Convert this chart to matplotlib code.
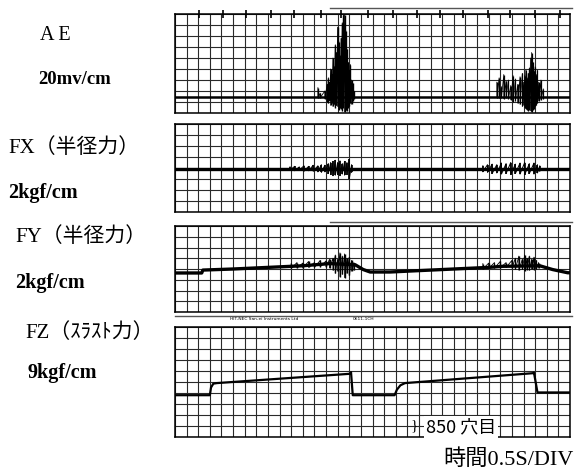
import numpy as np
import matplotlib
matplotlib.use('Agg')
import matplotlib.pyplot as plt
from matplotlib.lines import Line2D

W, H = 581, 471
ncols = 34

# AE trace (20mv/cm) - baseline and two bursts, in grid divisions
ae_base = 1.45
ae1_x = [12.3, 12.5, 12.9, 13.1, 13.2, 13.3, 13.4, 13.5, 13.6, 13.7, 13.8, 13.9, 14.0, 14.1,
         14.2, 14.3, 14.4, 14.5, 14.6, 14.7, 14.8, 14.9, 15.0, 15.1, 15.2, 15.3, 15.4]
ae1_top = [2.3, 1.8, 2.0, 2.6, 3.2, 2.8, 4.0, 3.5, 5.0, 4.2, 6.2, 5.5, 7.8, 6.5,
           5.2, 6.8, 8.2, 8.9, 8.9, 7.5, 5.8, 4.6, 3.9, 4.4, 3.0, 2.7, 2.0]
ae1_bot = [1.4, 1.4, 1.3, 1.0, 0.9, 1.1, 0.7, 0.9, 0.6, 0.8, 0.5, 0.7, 0.6, 0.3,
           0.5, 0.4, 0.2, 0.5, 0.1, 0.3, 0.2, 0.5, 0.6, 0.9, 0.8, 1.1, 1.3]
ae2_x = [27.7, 27.9, 28.1, 28.3, 28.5, 28.7, 28.9, 29.1, 29.3, 29.5, 29.7, 29.9, 30.0, 30.1,
         30.2, 30.3, 30.4, 30.5, 30.6, 30.7, 30.8, 30.9, 31.0, 31.1, 31.2, 31.3, 31.5, 31.7]
ae2_top = [2.8, 3.2, 2.4, 3.5, 2.9, 3.0, 2.5, 3.4, 3.1, 2.6, 3.3, 3.6, 2.8, 3.4,
           3.9, 3.2, 3.6, 4.1, 5.0, 5.5, 4.6, 3.8, 4.2, 3.5, 3.9, 2.8, 3.0, 2.2]
ae2_bot = [1.4, 1.4, 1.4, 1.3, 1.4, 1.3, 1.2, 1.0, 1.1, 0.9, 0.8, 0.6, 0.7, 0.5,
           0.4, 0.3, 0.2, 0.3, 0.2, 0.1, 0.3, 0.4, 0.6, 0.7, 0.9, 1.1, 1.2, 1.3]
time_marks = [2.1, 4.1, 6.1, 8.3, 10.2, 12.6, 14.3, 16.6, 18.8, 20.8, 22.8, 24.8, 26.9, 28.8, 31.0, 33.1]

# FX (radial force, 2kgf/cm)
fx_base = 3.9
fx1_x = [9.9, 10.3, 10.7, 11.1, 11.5, 11.9, 12.3, 12.6, 12.9, 13.2, 13.4, 13.6, 13.8, 14.0,
         14.2, 14.4, 14.6, 14.8, 15.0, 15.2]
fx1_top = [4.1, 4.15, 4.1, 4.2, 4.15, 4.25, 4.2, 4.3, 4.25, 4.4, 4.5, 4.6, 4.7, 4.5,
           4.65, 4.4, 4.6, 4.5, 4.8, 4.3]
fx1_bot = [3.8, 3.75, 3.8, 3.7, 3.75, 3.7, 3.65, 3.6, 3.65, 3.5, 3.4, 3.3, 3.35, 3.4,
           3.3, 3.45, 3.35, 3.4, 3.0, 3.6]
fx2_x = [26.5, 26.9, 27.3, 27.7, 28.1, 28.5, 28.9, 29.3, 29.7, 30.1, 30.5, 30.9, 31.2, 31.4]
fx2_top = [4.2, 4.3, 4.35, 4.3, 4.45, 4.4, 4.5, 4.35, 4.45, 4.5, 4.4, 4.45, 4.3, 4.2]
fx2_bot = [3.65, 3.6, 3.5, 3.55, 3.45, 3.5, 3.4, 3.5, 3.45, 3.4, 3.5, 3.45, 3.55, 3.7]

# FY (radial force, 2kgf/cm)
fy_x = [0, 2.3, 2.4, 5, 8, 11, 13.3, 15.5, 16.2, 16.8, 18.5, 21, 24, 27, 28.2, 31.4, 32.5, 33.8, 34]
fy_y = [3.63, 3.63, 3.9, 4.0, 4.15, 4.3, 4.5, 4.4, 3.95, 3.72, 3.72, 3.85, 4.0, 4.15, 4.25, 4.3, 3.95, 3.65, 3.65]
fy1_x = [10.0, 10.5, 11.0, 11.5, 12.0, 12.5, 13.0, 13.3, 13.6, 13.8, 14.0, 14.2, 14.4, 14.6,
         14.8, 15.0, 15.2, 15.4]
fy1_top = [4.5, 4.6, 4.55, 4.7, 4.6, 4.8, 4.75, 4.9, 5.0, 5.3, 4.9, 5.5, 5.2, 5.4,
           5.0, 5.1, 4.8, 4.6]
fy1_bot = [4.05, 4.1, 4.1, 4.15, 4.15, 4.2, 4.2, 4.1, 3.9, 3.6, 3.8, 3.3, 3.5, 3.2,
           3.6, 3.4, 3.8, 3.9]
fy2_x = [26.5, 27.0, 27.5, 28.0, 28.5, 29.0, 29.3, 29.6, 29.9, 30.1, 30.3, 30.5, 30.7, 30.9, 31.1, 31.3]
fy2_top = [4.5, 4.55, 4.6, 4.7, 4.6, 4.8, 5.0, 5.2, 4.9, 5.3, 5.0, 5.2, 4.9, 5.1, 4.8, 4.6]
fy2_bot = [4.0, 4.05, 4.1, 4.1, 4.15, 4.1, 4.0, 3.9, 4.0, 3.85, 3.95, 3.9, 4.0, 3.95, 4.0, 4.1]

# FZ (thrust force, 9kgf/cm)
fz_x = [0, 3.0, 3.1, 3.3, 3.6, 15.1, 15.15, 15.3, 18.9, 19.1, 19.4, 19.8, 30.8, 30.9, 31.2, 34]
fz_y = [3.8, 3.8, 4.5, 4.85, 4.9, 5.75, 5.9, 3.8, 3.8, 4.3, 4.7, 4.9, 5.8, 5.85, 4.05, 4.05]

fig = plt.figure(figsize=(W / 100, H / 100), dpi=100)
fig.patch.set_facecolor('white')

label_font = ['Liberation Serif', 'Noto Sans CJK JP']


def fpos(x, y):
    return x / W, 1 - y / H


def panel(top, bottom, nrows):
    ax = fig.add_axes([175 / W, 1 - bottom / H, 395 / W, (bottom - top) / H])
    ax.set_xlim(0, ncols)
    ax.set_ylim(0, nrows)
    ax.set_xticks(np.arange(ncols + 1))
    ax.set_yticks(np.arange(nrows + 1))
    ax.grid(True, color='#2a2a2a', lw=0.8)
    ax.set_axisbelow(True)
    ax.tick_params(length=0, labelbottom=False, labelleft=False)
    for s in ax.spines.values():
        s.set_linewidth(1.1)
    return ax


def burst(ax, x, top, bot, lw=0.9):
    ax.vlines(x, bot, top, color='k', lw=lw)
    ax.plot(np.repeat(x, 2), np.column_stack([top, bot]).ravel(), color='k', lw=lw * 0.6)


# AE
ax1 = panel(14, 113, 9)
ax1.plot([0, ncols], [ae_base, ae_base], color='k', lw=1.8)
burst(ax1, ae1_x, ae1_top, ae1_bot, 1.0)
burst(ax1, ae2_x, ae2_top, ae2_bot, 0.9)
ax1.vlines(time_marks, 8.6, 9.35, color='k', lw=1.2, clip_on=False)

# FX
ax2 = panel(124, 212, 8)
ax2.plot([0, ncols], [fx_base, fx_base], color='k', lw=2.4)
burst(ax2, fx1_x, fx1_top, fx1_bot, 1.2)
burst(ax2, fx2_x, fx2_top, fx2_bot, 1.2)

# FY
ax3 = panel(226, 312, 8)
ax3.plot(fy_x, fy_y, color='k', lw=2.4)
burst(ax3, fy1_x, fy1_top, fy1_bot, 1.0)
burst(ax3, fy2_x, fy2_top, fy2_bot, 1.0)

# FZ
ax4 = panel(327, 437, 10)
ax4.plot(fz_x, fz_y, color='k', lw=1.6)

# strip paper edges
for y0, x0 in [(8, 330), (222, 330), (316, 175)]:
    fig.add_artist(Line2D([x0 / W, 572 / W], [1 - y0 / H, 1 - y0 / H], color='#555555', lw=1.0))

# left labels
fig.text(*fpos(40, 35), 'A E', family=label_font, fontsize=14.5, va='center')
fig.text(*fpos(38, 79), '20mv/cm', family=label_font, fontsize=13.5, weight='bold', va='center')
fig.text(*fpos(8, 148), 'FX（半径力）', family=label_font, fontsize=15, va='center')
fig.text(*fpos(8, 193), '2kgf/cm', family=label_font, fontsize=14.5, weight='bold', va='center')
fig.text(*fpos(15, 237), 'FY（半径力）', family=label_font, fontsize=15, va='center')
fig.text(*fpos(15, 283), '2kgf/cm', family=label_font, fontsize=14.5, weight='bold', va='center')
fig.text(*fpos(25, 333), 'FZ（ｽﾗｽﾄ力）', family=label_font, fontsize=15, va='center')
fig.text(*fpos(27, 373), '9kgf/cm', family=label_font, fontsize=14.5, weight='bold', va='center')

# recorder imprint
fig.text(*fpos(230, 319), 'HIT-NEC San-ei Instruments Ltd', fontsize=3.2, va='center')
fig.text(*fpos(353, 319), '0611-1CH', fontsize=3.2, va='center')

# annotations
fig.text(*fpos(411, 426), '}', family='Liberation Serif', fontsize=11, va='center')
fig.text(*fpos(426, 427), '850 穴目', family=['Noto Sans CJK JP'], fontsize=13, va='center',
         bbox=dict(facecolor='white', edgecolor='none', pad=1.5))
fig.text(*fpos(443, 460), '時間0.5S/DIV', family=label_font, fontsize=16, va='center')

fig.savefig('out.png', dpi=100)
